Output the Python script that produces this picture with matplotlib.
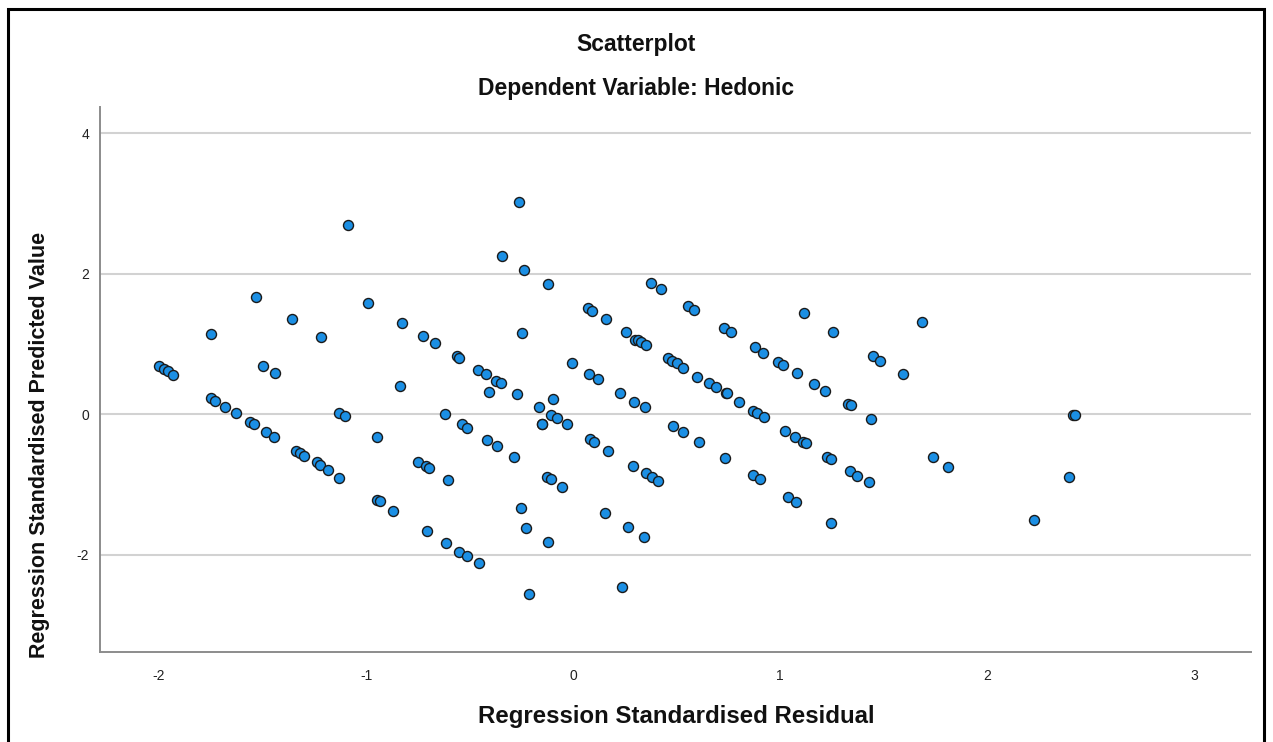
import matplotlib.pyplot as plt
from matplotlib.lines import Line2D

# Standardised residuals (x) and standardised predicted values (y)
residual = [
    -2.000, -1.975, -1.955, -1.931, -1.749, -1.749, -1.729, -1.681, -1.630, -1.560,
    -1.541, -1.533, -1.499, -1.483, -1.444, -1.440, -1.356, -1.340, -1.319, -1.300,
    -1.238, -1.222, -1.217, -1.185, -1.129, -1.129, -1.103, -1.086, -0.989, -0.948,
    -0.932, -0.945, -0.871, -0.836, -0.828, -0.747, -0.723, -0.710, -0.707, -0.696,
    -0.667, -0.618, -0.615, -0.605, -0.562, -0.549, -0.549, -0.535, -0.514, -0.511,
    -0.457, -0.454, -0.420, -0.414, -0.407, -0.372, -0.369, -0.349, -0.341, -0.285,
    -0.272, -0.259, -0.251, -0.245, -0.235, -0.229, -0.211, -0.166, -0.151, -0.148,
    -0.127, -0.122, -0.119, -0.108, -0.106, -0.095, -0.079, -0.052, -0.028, -0.003,
    0.074, 0.079, 0.082, 0.092, 0.101, 0.119, 0.155, 0.158, 0.171, 0.228,
    0.235, 0.256, 0.267, 0.291, 0.295, 0.300, 0.313, 0.327, 0.353, 0.343,
    0.348, 0.353, 0.375, 0.380, 0.412, 0.424, 0.460, 0.477, 0.481, 0.501,
    0.533, 0.533, 0.554, 0.585, 0.600, 0.609, 0.657, 0.691, 0.731, 0.734,
    0.739, 0.745, 0.762, 0.802, 0.871, 0.871, 0.879, 0.890, 0.903, 0.919,
    0.923, 0.992, 1.016, 1.024, 1.040, 1.072, 1.077, 1.084, 1.113, 1.116,
    1.124, 1.166, 1.217, 1.229, 1.245, 1.246, 1.258, 1.330, 1.341, 1.338,
    1.374, 1.430, 1.438, 1.451, 1.483, 1.593, 1.684, 1.738, 1.810, 2.229,
    2.396, 2.417, 2.425,
]
predicted = [
    0.68, 0.64, 0.61, 0.56, 1.14, 0.228, 0.193, 0.108, 0.014, -0.114,
    -0.142, 1.67, 0.69, -0.256, -0.327, 0.583, 1.35, -0.518, -0.555, -0.589,
    -0.683, -0.721, 1.095, -0.792, 0.014, -0.902, -0.02, 2.69, 1.59, -1.219,
    -1.233, -0.318, -1.371, 0.407, 1.303, -0.674, 1.114, -0.735, -1.664, -0.768,
    1.01, 0.0, -1.835, -0.935, 0.829, 0.797, -1.959, -0.142, -2.011, -0.19,
    0.63, -2.12, 0.573, -0.366, 0.321, 0.474, -0.451, 0.441, 2.256, -0.603,
    0.289, 3.02, -1.328, 1.161, 2.05, -1.617, -2.56, 0.108, -0.142, -0.145,
    -0.887, -1.812, 1.85, -0.92, -0.01, 0.222, -0.057, -1.03, -0.142, 0.725,
    1.508, 0.573, -0.356, 1.469, -0.39, 0.498, -1.40, 1.351, -0.518, 0.30,
    -2.452, 1.166, -1.599, -0.731, 0.179, 1.06, 1.05, 1.033, 0.986, -1.741,
    0.1, -0.84, 1.863, -0.887, -0.944, 1.782, 0.797, 0.762, -0.162, 0.725,
    0.663, -0.256, 1.545, 1.484, 0.535, -0.39, 0.441, 0.384, 1.223, -0.617,
    0.299, 0.299, 1.166, 0.179, 0.051, -0.863, 0.953, 0.014, -0.925, 0.876,
    -0.043, 0.748, 0.701, -0.233, -1.172, -0.318, -1.243, 0.583, -0.39, 1.437,
    -0.413, 0.431, 0.336, -0.612, -1.55, -0.636, 1.175, 0.142, 0.132, -0.802,
    -0.878, -0.967, -0.067, 0.829, 0.762, 0.569, 1.317, -0.612, -0.745, -1.504,
    -0.896, -0.01, -0.005,
]

x_ticks = [-2, -1, 0, 1, 2, 3]
y_ticks = [-2, 0, 2, 4]

plt.rcParams['font.family'] = ['Liberation Sans', 'DejaVu Sans']
plt.rcParams['axes.unicode_minus'] = False

fig = plt.figure(figsize=(12.73, 7.42), dpi=100)
ax = fig.add_axes([0.0786, 0.1213, 0.9041, 0.7345])

ax.scatter(residual, predicted, s=52, color='#1b8fe4', edgecolors='#1a1a1a',
           linewidths=1.0, zorder=3)

ax.set_xlim(-2.285, 3.275)
ax.set_ylim(-3.381, 4.371)
ax.set_xticks(x_ticks)
ax.set_yticks(y_ticks)
ax.tick_params(length=0, labelsize=10, colors='#222222')
ax.tick_params(axis='x', pad=12)
ax.tick_params(axis='y', pad=8)

# horizontal reference lines only
ax.yaxis.grid(True, color='#d2d2d2', linewidth=1.5)
ax.set_axisbelow(True)

for side in ['top', 'right']:
    ax.spines[side].set_visible(False)
for side in ['left', 'bottom']:
    ax.spines[side].set_color('#8c8c8c')
    ax.spines[side].set_linewidth(1.4)

fig.text(0.5, 1 - 45 / 742, 'Scatterplot', ha='center', va='center',
         fontsize=16.5, fontweight='bold', color='#111111')
fig.text(0.5, 1 - 88 / 742, 'Dependent Variable: Hedonic', ha='center', va='center',
         fontsize=16.5, fontweight='bold', color='#111111')
fig.text(676 / 1273, 1 - 717 / 742, 'Regression Standardised Residual',
         ha='center', va='center', fontsize=17.3, fontweight='bold', color='#111111')
fig.text(40 / 1273, 1 - 445 / 742, 'Regression Standardised Predicted Value',
         ha='center', va='center', rotation=90, fontsize=15.5, fontweight='bold',
         color='#111111')

# outer frame (open at the bottom edge)
x0, x1 = 7.5 / 1273, 1263.5 / 1273
ytop = 1 - 8.5 / 742
frame = Line2D([x0, x0, x1, x1], [0, ytop, ytop, 0], transform=fig.transFigure,
               color='black', linewidth=2.2, solid_joinstyle='miter')
fig.add_artist(frame)

fig.savefig('out.png', dpi=100)
